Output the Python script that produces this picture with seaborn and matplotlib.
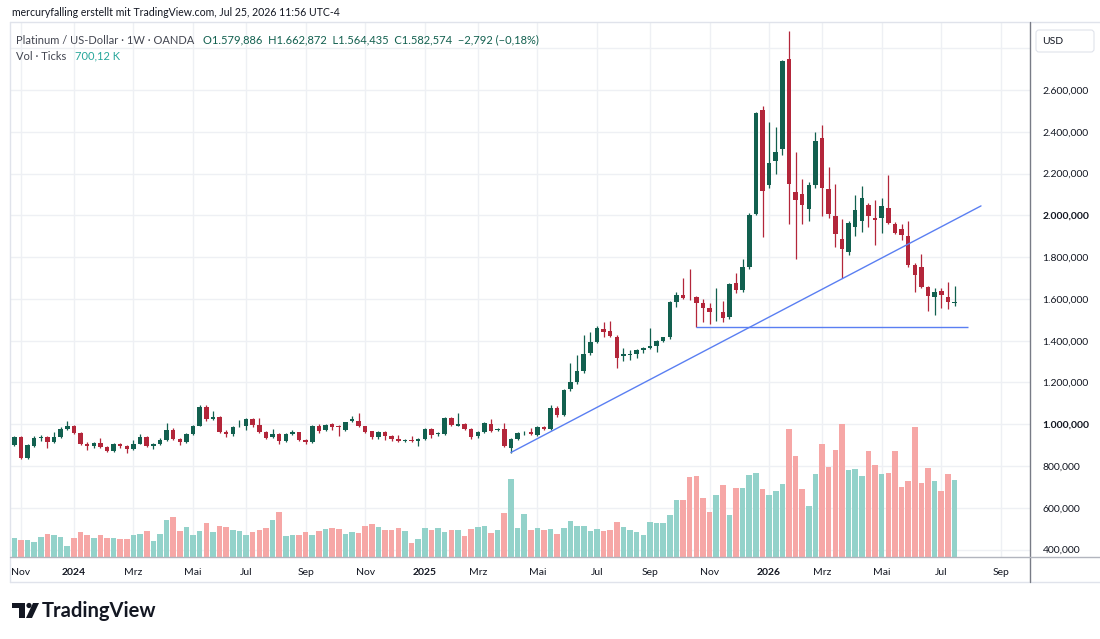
import numpy as np
import pandas as pd
import matplotlib
matplotlib.use("Agg")
import matplotlib.pyplot as plt
import seaborn as sns
from matplotlib.patches import Rectangle, Circle, Polygon, FancyBboxPatch

# weekly OHLC, platinum in USD, first candle = week of 2023-10-30
first_week = "2023-10-30"

opens = [899, 937, 838, 897, 935, 937, 915, 940, 978, 990,
         960, 906, 898, 910, 891, 872, 905, 897, 881, 908,
         937, 895, 906, 923, 975, 931, 914, 955, 994, 1082,
         1026, 1034, 963, 955, 990, 990, 1025, 998, 963, 939,
         953, 918, 953, 961, 923, 915, 993, 972, 1002, 993,
         975, 1017, 1018, 990, 966, 937, 963, 942, 931, 921,
         925, 918, 929, 977, 953, 953, 1029, 994, 1001, 977,
         942, 961, 1002, 972, 977, 886, 929, 961, 963, 950,
         987, 977, 1080, 1043, 1168, 1200, 1256, 1339, 1395, 1456,
         1445, 1419, 1325, 1332, 1336, 1355, 1363, 1373, 1397, 1416,
         1587, 1619, 1605, 1608, 1579, 1555, 1540, 1536, 1512, 1677,
         1645, 1752, 2008, 2504, 2147, 2259, 2315, 2746, 2112, 2104,
         2032, 2147, 2368, 2125, 1997, 1885, 1824, 1944, 1973, 2051,
         1989, 1989, 2035, 1960, 1936, 1901, 1763, 1752, 1656, 1608,
         1640, 1611, 1580]
highs = [946, 942, 905, 942, 950, 946, 963, 985, 1017, 998,
         962, 916, 916, 934, 897, 910, 912, 900, 925, 953,
         942, 910, 933, 1006, 980, 935, 958, 997, 1090, 1092,
         1066, 1040, 975, 992, 1022, 1030, 1028, 1030, 966, 977,
         957, 958, 975, 964, 930, 997, 1000, 1003, 1006, 997,
         1013, 1042, 1054, 993, 969, 968, 968, 947, 951, 932,
         945, 935, 982, 981, 962, 1034, 1035, 1054, 1004, 981,
         966, 1010, 1027, 984, 1006, 934, 962, 970, 980, 992,
         993, 1093, 1086, 1170, 1291, 1331, 1427, 1440, 1470, 1491,
         1496, 1425, 1365, 1355, 1362, 1368, 1459, 1402, 1420, 1590,
         1635, 1699, 1745, 1612, 1600, 1580, 1651, 1590, 1678, 1725,
         1792, 2010, 2495, 2525, 2445, 2424, 2745, 2880, 2301, 2176,
         2160, 2400, 2432, 2232, 2152, 1984, 1975, 2099, 2141, 2060,
         2073, 2082, 2195, 1968, 1960, 1971, 1770, 1816, 1660, 1650,
         1650, 1683, 1663]
lows = [894, 835, 835, 893, 921, 886, 910, 936, 975, 952,
        900, 878, 885, 888, 866, 868, 886, 862, 877, 905,
        890, 884, 902, 920, 925, 900, 910, 950, 990, 1018,
        1020, 960, 940, 945, 985, 975, 985, 958, 930, 935,
        908, 914, 950, 918, 905, 912, 960, 968, 972, 945,
        970, 1012, 985, 958, 930, 932, 925, 922, 914, 915,
        914, 897, 926, 935, 946, 950, 990, 990, 972, 930,
        935, 957, 965, 966, 890, 865, 925, 950, 948, 946,
        972, 972, 1035, 1038, 1160, 1195, 1245, 1330, 1390, 1420,
        1416, 1267, 1305, 1310, 1318, 1340, 1358, 1345, 1392, 1410,
        1560, 1598, 1595, 1464, 1488, 1480, 1495, 1490, 1505, 1630,
        1635, 1745, 2000, 1896, 2130, 2200, 2290, 1957, 1792, 1960,
        1975, 2130, 1997, 1985, 1848, 1699, 1810, 1900, 1920, 1944,
        1859, 1915, 1960, 1910, 1880, 1755, 1635, 1650, 1544, 1523,
        1555, 1551, 1564]
closes = [937, 838, 899, 934, 938, 915, 940, 978, 991, 958,
          905, 898, 910, 891, 870, 905, 897, 880, 907, 937,
          894, 906, 923, 974, 931, 914, 953, 993, 1082, 1026,
          1034, 963, 954, 987, 994, 1026, 998, 961, 934, 953,
          921, 953, 961, 923, 915, 993, 970, 998, 987, 988,
          1010, 1025, 990, 963, 937, 963, 945, 929, 918, 924,
          919, 931, 977, 950, 956, 1029, 998, 1001, 977, 939,
          961, 1006, 970, 975, 894, 929, 958, 964, 953, 987,
          977, 1080, 1043, 1165, 1200, 1253, 1336, 1392, 1459, 1443,
          1424, 1318, 1334, 1335, 1355, 1363, 1376, 1397, 1416, 1584,
          1619, 1602, 1602, 1579, 1555, 1536, 1543, 1507, 1672, 1645,
          1752, 2003, 2488, 2117, 2248, 2304, 2736, 2152, 2072, 2048,
          2147, 2357, 2131, 2008, 1912, 1837, 1965, 2024, 2085, 1995,
          1976, 2045, 1965, 1915, 1907, 1763, 1712, 1659, 1613, 1632,
          1621, 1585, 1583]
# tick volume, thousands
volumes = [175, 151, 151, 133, 178, 211, 196, 181, 96, 169,
           229, 202, 175, 196, 175, 169, 160, 160, 196, 205,
           232, 142, 211, 338, 359, 232, 268, 196, 232, 308,
           226, 277, 271, 241, 235, 196, 223, 247, 259, 332,
           410, 187, 202, 196, 226, 196, 232, 253, 262, 250,
           211, 226, 220, 280, 301, 268, 247, 241, 259, 232,
           124, 160, 259, 247, 259, 226, 241, 241, 187, 256,
           268, 277, 214, 241, 396, 710, 266, 393, 241, 266,
           241, 256, 205, 262, 326, 277, 277, 235, 250, 235,
           247, 317, 271, 247, 226, 202, 315, 305, 309, 383,
           519, 519, 724, 733, 531, 407, 558, 654, 377, 624,
           627, 739, 763, 612, 558, 597, 657, 1161, 911, 612,
           458, 748, 1019, 814, 971, 1200, 784, 799, 733, 956,
           829, 754, 763, 956, 633, 684, 1176, 672, 808, 684,
           597, 754, 700]

# drawings: rising trendline (week index, price) and flat support
trend_x = [76, 147]
trend_y = [865, 2045]
support_price = 1464
support_x = [104, 145]

price_ticks = [400, 600, 800, 1000, 1200, 1400, 1600, 1800, 2000, 2200, 2400, 2600, 2800]
month_ticks = [(2023, 11), (2024, 1), (2024, 3), (2024, 5), (2024, 7), (2024, 9), (2024, 11),
               (2025, 1), (2025, 3), (2025, 5), (2025, 7), (2025, 9), (2025, 11),
               (2026, 1), (2026, 3), (2026, 5), (2026, 7), (2026, 9)]
month_names = {1: None, 3: "Mrz", 5: "Mai", 7: "Jul", 9: "Sep", 11: "Nov"}

UP = "#12604f"
DOWN = "#b3263a"
VOL_UP = "#93d2ca"
VOL_DOWN = "#f6a7a6"
GRID = "#eef0f4"
TEXT = "#131722"

sns.set_theme(style="white")
plt.rcParams["font.family"] = ["Lato", "DejaVu Sans"]

n = len(opens)
x = np.arange(1, n + 1)
o = np.array(opens, float)
c = np.array(closes, float)
up = c >= o
direction = np.where(up, "up", "down")

W, H = 1100, 639
fig = plt.figure(figsize=(W / 100, H / 100), dpi=100)
fig.patch.set_facecolor("white")

left, right, top, bottom = 10, 1030, 22, 557
ax_vol = fig.add_axes([left / W, 1 - bottom / H, (right - left) / W, (bottom - top) / H])
ax = ax_vol.twinx()
ax_vol.set_zorder(1)
ax.set_zorder(2)
ax.patch.set_visible(False)

xlim = (0.35, 154.4)
ylim = (365, 2925)

# volume behind the candles
sns.barplot(x=x, y=volumes, hue=direction, palette={"up": VOL_UP, "down": VOL_DOWN},
            native_scale=True, dodge=False, width=0.84, saturation=1, errorbar=None,
            legend=False, linewidth=0, ax=ax_vol)
ax_vol.set_ylim(0, 4840)
ax_vol.set_xlim(*xlim)

# month positions = first weekly candle of the month
all_weeks = pd.date_range(first_week, periods=170, freq="7D")
tick_pos, tick_lab, tick_bold = [], [], []
for yr, mo in month_ticks:
    idx = int(np.argmax(all_weeks >= pd.Timestamp(yr, mo, 1)))
    tick_pos.append(idx + 1)
    name = month_names[mo]
    tick_lab.append(str(yr) if name is None else name)
    tick_bold.append(name is None)

for tp in tick_pos:
    ax_vol.axvline(tp, color=GRID, lw=1, zorder=0)
ax_vol.hlines(price_ticks, xlim[0], xlim[1], colors=GRID, lw=1, zorder=0, transform=ax.transData)

ax_vol.set_xticks(tick_pos)
ax_vol.set_xticklabels(tick_lab)
for lab, b in zip(ax_vol.get_xticklabels(), tick_bold):
    lab.set_fontsize(7.5)
    lab.set_color(TEXT)
    if b:
        lab.set_fontweight("bold")
ax_vol.tick_params(axis="x", length=0, pad=8)
ax_vol.set_yticks([])
ax_vol.set_xlabel("")
ax_vol.set_ylabel("")
for s in ax_vol.spines.values():
    s.set_visible(False)

# candles
body_lo = np.minimum(o, c)
body_h = np.maximum(np.abs(c - o), 4)
cols = np.where(up, UP, DOWN)
ax.vlines(x, lows, highs, colors=cols, lw=0.9, zorder=2)
ax.bar(x, body_h, bottom=body_lo, width=0.68, color=cols, linewidth=0, zorder=3)

ax.plot(trend_x, trend_y, color="#5a7ff2", lw=1, zorder=4)
ax.hlines(support_price, support_x[0], support_x[1], color="#5a7ff2", lw=1, zorder=4)

ax.set_xlim(*xlim)
ax.set_ylim(*ylim)
ax.set_yticks(price_ticks[:-1])
labels = [f"{v:,.3f}".replace(",", "_").replace(".", ",").replace("_", ".") for v in price_ticks[:-1]]
ax.set_yticklabels(labels)
for lab, v in zip(ax.get_yticklabels(), price_ticks[:-1]):
    lab.set_fontsize(7.5)
    lab.set_color(TEXT)
    if v in (1000, 2000):
        lab.set_fontweight("bold")
ax.tick_params(axis="y", length=0, pad=9)
for s in ax.spines.values():
    s.set_visible(False)

# overlay in pixel coordinates for texts and frame
ov = fig.add_axes([0, 0, 1, 1], zorder=5)
ov.set_xlim(0, W)
ov.set_ylim(H, 0)
ov.axis("off")
ov.patch.set_visible(False)

ov.plot([left, W], [top, top], color="#e0e3eb", lw=1)
ov.plot([left, left], [top, 582], color="#e0e3eb", lw=1)
ov.plot([left, W], [582, 582], color="#e0e3eb", lw=1)
ov.plot([right, right], [top, 582], color="#787b86", lw=1)
ov.plot([left, W], [bottom, bottom], color="#b2b5be", lw=1)

ov.text(12, 13, "mercuryfalling erstellt mit TradingView.com, Jul 25, 2026 11:56 UTC-4",
        fontsize=7.6, color=TEXT, va="center", ha="left")
ov.text(16, 40, "Platinum / US-Dollar · 1W · OANDA", fontsize=8, color="#434651", va="center")
header_vals = "O1.579,886  H1.662,872  L1.564,435  C1.582,574  \u22122,792 (\u22120,18%)"
ov.text(203, 40, header_vals, fontsize=8, color=UP, va="center")
ov.text(16, 56, "Vol · Ticks", fontsize=8, color="#434651", va="center")
ov.text(75, 56, "700,12 K", fontsize=8, color="#26a69a", va="center")

ov.add_patch(FancyBboxPatch((1036, 30), 58, 22, boxstyle="round,pad=0,rounding_size=3",
                            facecolor="white", edgecolor="#e0e3eb", lw=0.8))
ov.text(1042, 41, "USD", fontsize=7.5, color=TEXT, va="center")

# TradingView logo
ov.add_patch(Rectangle((12, 603), 13, 5, color=TEXT, lw=0))
ov.add_patch(Rectangle((19, 603), 6, 15, color=TEXT, lw=0))
ov.add_patch(Circle((29, 605.5), 2.6, color=TEXT, lw=0))
ov.add_patch(Polygon([(33, 603), (39, 603), (32, 618), (26, 618)], closed=True, color=TEXT, lw=0))
ov.text(42, 611, "TradingView", fontsize=14.5, fontweight="bold", color=TEXT, va="center")

fig.savefig("out.png", dpi=100, facecolor="white")
